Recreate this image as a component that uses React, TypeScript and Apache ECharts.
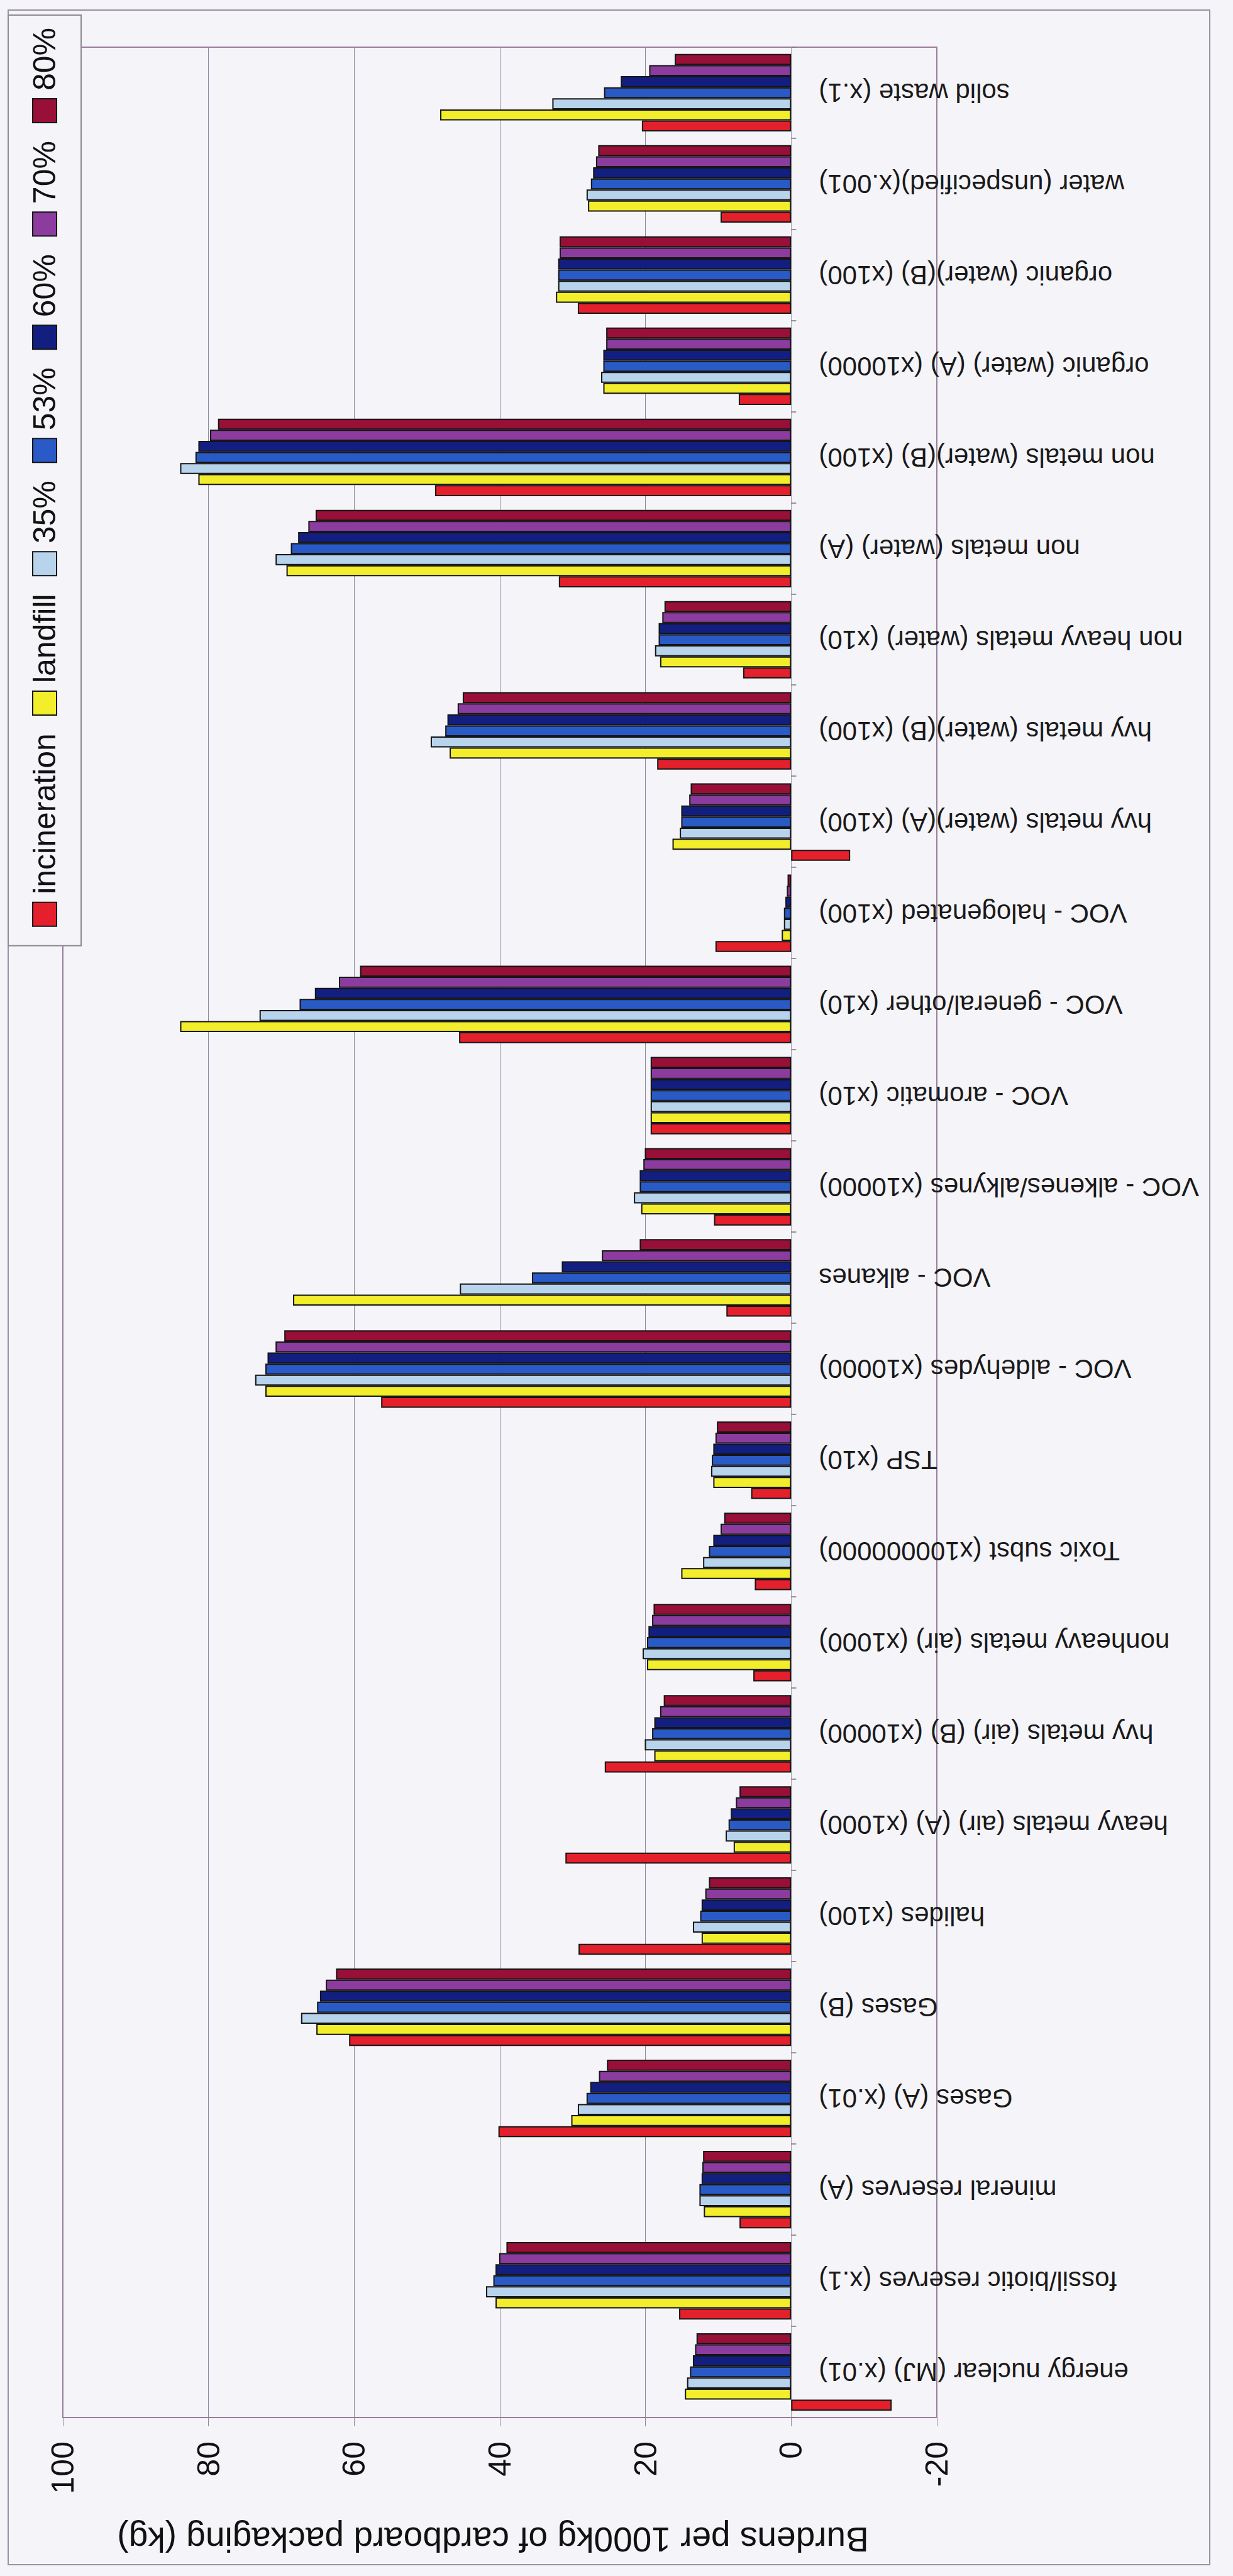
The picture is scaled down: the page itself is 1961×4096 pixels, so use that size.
import React, { useEffect, useRef } from "react";
import * as echarts from "echarts";

const FONT = "'Liberation Sans', Arial, Helvetica, sans-serif";

const categories = [
  "energy nuclear (MJ) (x.01)",
  "fossil/biotic reserves (x.1)",
  "mineral reserves (A)",
  "Gases (A) (x.01)",
  "Gases (B)",
  "halides (x100)",
  "heavy metals (air) (A) (x1000)",
  "hvy metals (air) (B) (x10000)",
  "nonheavy metals (air) (x1000)",
  "Toxic subst (x100000000)",
  "TSP (x10)",
  "VOC - aldehydes (x10000)",
  "VOC - alkanes",
  "VOC - alkenes/alkynes (x10000)",
  "VOC - aromatic (x10)",
  "VOC - general/other (x10)",
  "VOC - halogenated (x100)",
  "hvy metals (water)(A) (x100)",
  "hvy metals (water)(B) (x100)",
  "non heavy metals (water) (x10)",
  "non metals (water) (A)",
  "non metals (water)(B) (x100)",
  "organic (water) (A) (x10000)",
  "organic (water)(B) (x100)",
  "water (unspecified)(x.001)",
  "solid waste (x.1)",
];

const seriesNames = ["incineration", "landfill", "35%", "53%", "60%", "70%", "80%"];
const seriesColors = ["#e3202b", "#f2ee2c", "#b8d3ec", "#2a5ac6", "#131f80", "#8c3c9f", "#980f38"];

const incineration = [-13.8, 15.4, 7.1, 40.2, 60.7, 29.2, 31.0, 25.6, 5.2, 5.0, 5.5, 56.3, 8.9, 10.6, 19.3, 45.6, 10.4, -8.1, 18.4, 6.6, 31.9, 48.9, 7.2, 29.3, 9.7, 20.5];
const landfill = [14.6, 40.6, 12.0, 30.2, 65.2, 12.3, 7.9, 18.8, 19.8, 15.1, 10.7, 72.2, 68.4, 20.6, 19.3, 83.9, 1.3, 16.3, 46.9, 18.0, 69.3, 81.4, 25.8, 32.3, 27.9, 48.2];
const p35 = [14.3, 41.9, 12.6, 29.3, 67.3, 13.5, 9.0, 20.1, 20.4, 12.1, 11.0, 73.6, 45.5, 21.6, 19.3, 73.0, 1.0, 15.3, 49.5, 18.7, 70.8, 83.9, 26.1, 32.0, 28.1, 32.8];
const p53 = [13.9, 40.9, 12.6, 28.1, 65.1, 12.5, 8.6, 19.1, 19.8, 11.3, 10.9, 72.2, 35.6, 20.8, 19.3, 67.5, 1.0, 15.1, 47.5, 18.2, 68.7, 81.8, 25.8, 32.0, 27.5, 25.7];
const p60 = [13.5, 40.6, 12.3, 27.6, 64.7, 12.3, 8.3, 18.8, 19.6, 10.7, 10.7, 71.9, 31.5, 20.8, 19.3, 65.4, 0.8, 15.1, 47.2, 18.2, 67.7, 81.4, 25.8, 32.0, 27.2, 23.4];
const p70 = [13.2, 40.1, 12.2, 26.4, 63.9, 11.8, 7.6, 18.0, 19.1, 9.7, 10.4, 70.8, 26.0, 20.3, 19.3, 62.1, 0.6, 14.0, 45.8, 17.7, 66.3, 79.8, 25.4, 31.8, 26.8, 19.5];
const p80 = [13.0, 39.1, 12.1, 25.3, 62.5, 11.3, 7.1, 17.5, 18.9, 9.2, 10.2, 69.6, 20.8, 20.1, 19.3, 59.2, 0.5, 13.8, 45.1, 17.4, 65.3, 78.7, 25.4, 31.8, 26.5, 16.0];

const seriesData = [incineration, landfill, p35, p53, p60, p70, p80];

const axisTitle = "Burdens per 1000kg of cardboard packaging (kg)";
const valueMin = -20;
const valueMax = 100;
const valueInterval = 20;

const BG = "#f5f4f9";

// layout (chart is drawn un-rotated, 4096 x 1961, then turned a quarter turn)
const GRID_TOP = 100;
const GRID_BOTTOM = 471;
const CHART_H = 1961;
// distance of the zero line above the grid bottom
const plotH = CHART_H - GRID_TOP - GRID_BOTTOM;
const zeroLift = (plotH * (0 - valueMin)) / (valueMax - valueMin);

function buildOption() {
  return {
    animation: false,
    backgroundColor: BG,
    textStyle: { fontFamily: FONT },
    legend: {
      orient: "horizontal",
      right: 24,
      top: 13,
      itemWidth: 38,
      itemHeight: 38,
      itemGap: 28,
      padding: [33, 20, 33, 30],
      backgroundColor: BG,
      borderColor: "#8d8a92",
      borderWidth: 2,
      icon: "rect",
      selectedMode: false,
      data: seriesNames,
      textStyle: { fontSize: 50, color: "#111", fontFamily: FONT, padding: [0, 0, 0, 8] },
    },
    grid: {
      left: 252,
      right: 75,
      top: GRID_TOP,
      bottom: GRID_BOTTOM,
      show: true,
      borderColor: "#9b7c98",
      borderWidth: 2,
      backgroundColor: "transparent",
      outerBoundsMode: "none",
    },
    xAxis: {
      type: "category",
      data: categories,
      offset: -zeroLift,
      axisLine: { show: true, onZero: false, lineStyle: { color: "#a49cae", width: 1 } },
      axisTick: { show: true, length: 8, interval: 0, lineStyle: { color: "#777", width: 1.5 } },
      axisLabel: {
        interval: 0,
        rotate: 90,
        fontSize: 42,
        color: "#1a1a1a",
        margin: 44,
        fontFamily: FONT,
      },
      splitLine: { show: false },
    },
    yAxis: {
      type: "value",
      min: valueMin,
      max: valueMax,
      interval: valueInterval,
      axisLine: { show: true, lineStyle: { color: "#9b7c98", width: 2 } },
      axisTick: { show: true, length: 14, lineStyle: { color: "#8e8a9e", width: 1 } },
      axisLabel: { fontSize: 50, color: "#111", margin: 38, fontFamily: FONT },
      splitLine: { show: true, lineStyle: { color: "#8e8a9e", width: 1 } },
      name: axisTitle,
      nameLocation: "middle",
      nameGap: 166,
      nameTextStyle: { fontSize: 55, color: "#111", fontFamily: FONT, padding: [0, 0, 0, 22] },
    },
    series: seriesNames.map((name, i) => ({
      name,
      type: "bar",
      data: seriesData[i],
      barGap: "0%",
      barCategoryGap: "15%",
      itemStyle: { color: seriesColors[i], borderColor: "#151515", borderWidth: 2 },
    })),
    graphic: [
      {
        type: "rect",
        silent: true,
        shape: { x: 18, y: 13, width: 4062, height: 1911 },
        style: { fill: "none", stroke: "#9c8fa3", lineWidth: 2 },
      },
    ],
  };
}

export default function App() {
  const ref = useRef<HTMLDivElement>(null);
  useEffect(() => {
    if (!ref.current) return;
    const chart = echarts.init(ref.current, null, { renderer: "svg" });
    chart.setOption(buildOption() as any);
    return () => chart.dispose();
  }, []);
  return (
    <div
      style={{
        position: "absolute",
        left: 0,
        top: 0,
        width: 1961,
        height: 4096,
        overflow: "hidden",
        background: BG,
      }}
    >
      <div
        ref={ref}
        style={{
          position: "absolute",
          left: 0,
          top: 0,
          width: 4096,
          height: 1961,
          transformOrigin: "0 0",
          transform: "translateY(4096px) rotate(-90deg)",
        }}
      />
    </div>
  );
}
